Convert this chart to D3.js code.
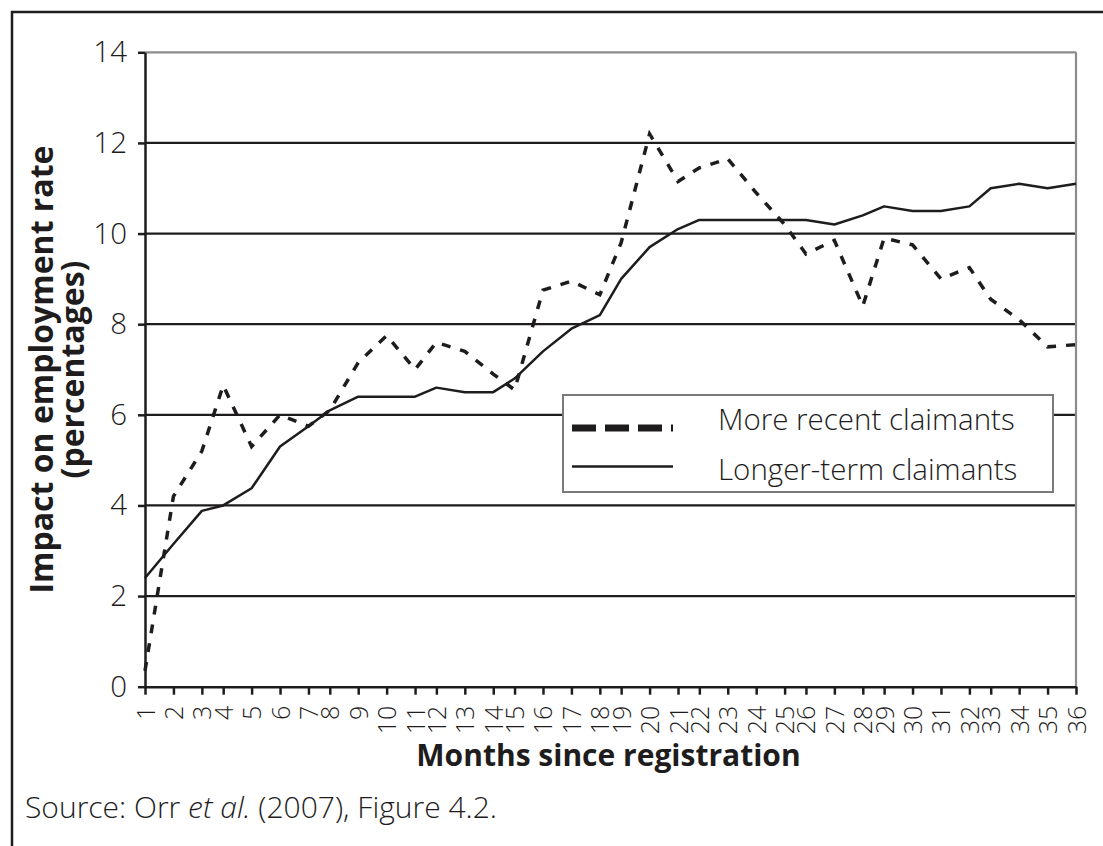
<!DOCTYPE html>
<html>
<head>
<meta charset="utf-8">
<script src="https://cdn.jsdelivr.net/npm/d3@7"></script>
<style>
  body { margin: 0; background: #fff; }
  svg { display: block; font-family: "Open Sans", "Noto Sans", sans-serif; }
</style>
</head>
<body>
<div class="chart"></div>
<script>
// months since registration (category labels)
var months = [1, 2, 3, 4, 5, 6, 7, 8, 9, 10, 11, 12, 13, 14, 15, 16, 17, 18,
  19, 20, 21, 22, 23, 24, 25, 26, 27, 28, 29, 30, 31, 32, 33, 34, 35, 36];

// slot of each month on the original category axis (the months are not evenly spaced)
var monthSlot = [0, 4, 8, 11, 15, 19, 23, 26, 30, 34, 38, 41, 45, 49, 52, 56, 60, 64,
  67, 71, 75, 78, 82, 86, 90, 93, 97, 101, 104, 108, 112, 116, 119, 123, 127, 131];

var moreRecent = [0.35, 4.2, 5.2, 6.65, 5.3, 6.0, 5.75, 6.1, 7.15, 7.75, 7.0, 7.6,
  7.4, 6.9, 6.55, 8.75, 8.95, 8.65, 9.8, 12.2, 11.15, 11.45, 11.65, 10.9,
  10.2, 9.55, 9.85, 8.4, 9.9, 9.75, 9.0, 9.25, 8.55, 8.1, 7.5, 7.55];

var longerTerm = [2.4, 3.15, 3.88, 4.0, 4.38, 5.3, 5.75, 6.1, 6.4, 6.4, 6.4, 6.6,
  6.5, 6.5, 6.8, 7.4, 7.9, 8.2, 9.0, 9.7, 10.1, 10.3, 10.3, 10.3,
  10.3, 10.3, 10.2, 10.4, 10.6, 10.5, 10.5, 10.6, 11.0, 11.1, 11.0, 11.1];

var yTicks = [0, 2, 4, 6, 8, 10, 12, 14];

var seriesNames = ["More recent claimants", "Longer-term claimants"];

var ink = "#1e1c1d";

var margin = {top: 52.3, right: 27, bottom: 159.3, left: 145},
    fullWidth = 1103,
    fullHeight = 846,
    width = fullWidth - margin.left - margin.right,
    height = fullHeight - margin.top - margin.bottom;

var svg = d3.select(".chart").append("svg")
    .attr("width", fullWidth)
    .attr("height", fullHeight);

// outer frame (runs off the right and bottom edge)
svg.append("rect")
    .attr("x", 12)
    .attr("y", 12)
    .attr("width", 1100)
    .attr("height", 850)
    .attr("fill", "none")
    .attr("stroke", ink)
    .attr("stroke-width", 2.5);

var g = svg.append("g")
    .attr("transform", "translate(" + margin.left + "," + margin.top + ")");

var x = d3.scaleLinear().domain([0, 131]).range([0, width]);
var y = d3.scaleLinear().domain([0, 14]).range([height, 0]);

// gridlines
g.selectAll(".grid")
    .data(yTicks.filter(function(d) { return d > 0; }))
  .enter().append("line")
    .attr("class", "grid")
    .attr("x1", 0)
    .attr("x2", width)
    .attr("y1", function(d) { return y(d); })
    .attr("y2", function(d) { return y(d); })
    .attr("stroke", function(d) { return d === 14 ? "#8c8c8c" : ink; })
    .attr("stroke-width", 2.2);

// right border of the plot area
g.append("line")
    .attr("x1", width)
    .attr("x2", width)
    .attr("y1", 0)
    .attr("y2", height)
    .attr("stroke", "#8c8c8c")
    .attr("stroke-width", 2.2);

// y axis
var yAxis = g.append("g")
    .call(d3.axisLeft(y).tickValues(yTicks).tickSize(7).tickSizeOuter(0).tickPadding(11));
yAxis.attr("font-family", null).attr("font-size", 29.5).attr("font-weight", 300);
yAxis.select(".domain").attr("stroke", ink).attr("stroke-width", 2.5);
yAxis.selectAll(".tick line").attr("stroke", ink).attr("stroke-width", 2.5);
yAxis.selectAll(".tick text").attr("fill", ink);

// x axis
var xAxis = g.append("g")
    .attr("transform", "translate(0," + height + ")")
    .call(d3.axisBottom(x)
      .tickValues(monthSlot)
      .tickFormat(function(d, i) { return months[i]; })
      .tickSize(8)
      .tickSizeOuter(0));
xAxis.attr("font-family", null).attr("font-size", 25).attr("font-weight", 300);
xAxis.select(".domain").attr("stroke", ink).attr("stroke-width", 2.5);
xAxis.selectAll(".tick line").attr("stroke", ink).attr("stroke-width", 2.5);
xAxis.selectAll(".tick text")
    .attr("fill", ink)
    .attr("transform", "rotate(-90)")
    .attr("text-anchor", "end")
    .attr("x", -19)
    .attr("y", 0)
    .attr("dy", "0.36em");

// lines
var line = d3.line()
    .x(function(d, i) { return x(monthSlot[i]); })
    .y(function(d) { return y(d); });

g.append("path")
    .datum(longerTerm)
    .attr("fill", "none")
    .attr("stroke", ink)
    .attr("stroke-width", 2.5)
    .attr("stroke-linejoin", "round")
    .attr("d", line);

g.append("path")
    .datum(moreRecent)
    .attr("fill", "none")
    .attr("stroke", ink)
    .attr("stroke-width", 3.5)
    .attr("stroke-dasharray", "9,10")
    .attr("d", line);

// legend
var legend = svg.append("g").attr("transform", "translate(563,395)");
legend.append("rect")
    .attr("width", 490)
    .attr("height", 97)
    .attr("fill", "#fff")
    .attr("stroke", "#7a7a7a")
    .attr("stroke-width", 2);

legend.append("line")
    .attr("x1", 9).attr("x2", 110)
    .attr("y1", 33).attr("y2", 33)
    .attr("stroke", ink)
    .attr("stroke-width", 7)
    .attr("stroke-dasharray", "24,9");

legend.append("line")
    .attr("x1", 9).attr("x2", 110)
    .attr("y1", 71.5).attr("y2", 71.5)
    .attr("stroke", ink)
    .attr("stroke-width", 2.5);

legend.selectAll(".legtext")
    .data(seriesNames)
  .enter().append("text")
    .attr("class", "legtext")
    .attr("x", 155)
    .attr("y", function(d, i) { return 35 + i * 50; })
    .attr("font-size", 29.5)
    .attr("font-weight", 300)
    .attr("fill", ink)
    .text(function(d) { return d; });

// axis titles
var yTitle = svg.append("text")
    .attr("transform", "translate(53," + (margin.top + height / 2) + ") rotate(-90)")
    .attr("text-anchor", "middle")
    .attr("font-weight", "bold")
    .attr("font-size", 32)
    .attr("fill", ink);
yTitle.append("tspan").attr("x", 0).attr("y", 0).text("Impact on employment rate");
yTitle.append("tspan").attr("x", 0).attr("y", 31).text("(percentages)");

svg.append("text")
    .attr("x", margin.left + width / 2 - 2)
    .attr("y", 766)
    .attr("text-anchor", "middle")
    .attr("font-weight", "bold")
    .attr("font-size", 30)
    .attr("fill", ink)
    .text("Months since registration");

// source note
var src = svg.append("text")
    .attr("x", 25)
    .attr("y", 818)
    .attr("font-size", 30)
    .attr("font-weight", 300)
    .attr("fill", ink);
src.append("tspan").text("Source: Orr ");
src.append("tspan").attr("font-style", "italic").text("et al.");
src.append("tspan").text(" (2007), Figure 4.2.");
</script>
</body>
</html>
